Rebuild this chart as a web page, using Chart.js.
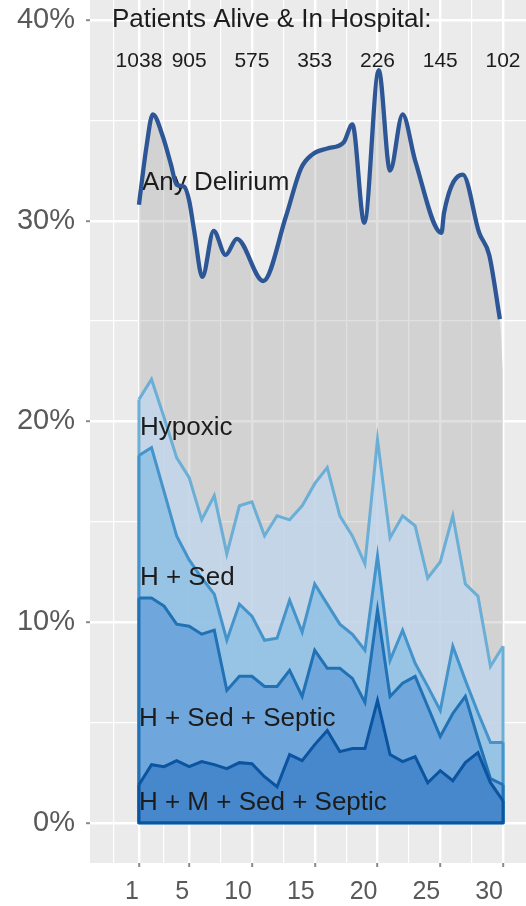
<!DOCTYPE html>
<html>
<head>
<meta charset="utf-8">
<script src="https://cdn.jsdelivr.net/npm/chart.js@4.4.1/dist/chart.umd.min.js"></script>
<style>
html,body{margin:0;padding:0;background:#ffffff;}
#wrap{width:526px;height:906px;position:relative;}
</style>
</head>
<body>
<div id="wrap"><canvas id="c" width="526" height="906"></canvas></div>
<script>
// ---------- data ----------
const days = [1,2,3,4,5,6,7,8,9,10,11,12,13,14,15,16,17,18,19,20,21,22,23,24,25,26,27,28,29,30];

const hypoxic = [21.1,22.1,20.2,18.2,17.2,15.1,16.3,13.4,15.8,16.0,14.3,15.3,15.1,15.8,16.9,17.7,15.3,14.3,12.9,19.1,14.2,15.3,14.8,12.2,13.0,15.3,11.9,11.3,7.8,8.8];
const hSed = [18.3,18.7,16.5,14.3,13.1,12.2,11.4,9.1,10.9,10.3,9.1,9.2,11.1,9.5,11.9,10.9,9.9,9.4,8.6,13.3,8.1,9.6,7.95,6.8,5.6,8.8,7.1,5.5,4.0,4.0];
const hSedSeptic = [11.2,11.2,10.8,9.9,9.8,9.4,9.6,6.6,7.3,7.3,6.8,6.8,7.6,6.3,8.6,7.7,7.7,7.2,6.0,10.6,6.3,6.96,7.3,5.8,4.3,5.45,6.3,4.2,2.2,1.9];
const hmSedSeptic = [1.9,2.9,2.8,3.1,2.8,3.05,2.9,2.7,3.0,2.95,2.3,1.8,3.4,3.1,3.9,4.6,3.55,3.7,3.7,6.1,3.4,3.05,3.3,2.0,2.6,2.1,3.0,3.5,2.0,1.1];

// smoothed "Any Delirium" curve
const delirDays   = [1,1.6,2.1,2.9,3.55,4.0,4.6,5.0,5.4,6.05,6.95,7.9,8.8,10.9,12.7,13.9,14.8,16.0,17.3,18.0,18.95,20.1,21.0,22.0,23.0,25.1,25.3,26.8,28.1,28.9,29.75];
const delirValues = [30.8,33.7,35.3,34.2,32.8,31.8,31.7,31.0,29.5,27.2,29.5,28.3,29.1,27.0,30.2,32.6,33.3,33.6,33.9,34.8,29.9,37.5,32.5,35.3,33.0,29.4,30.4,32.3,29.4,28.3,25.1];
const delirAreaEndDay = 30;
const delirAreaEndValue = 22.5;

// patients alive & in hospital
const countDays = [1,5,10,15,20,25,30];
const countValues = [1038,905,575,353,226,145,102];

// axis ticks
const xGridTicks = [-1,1,3,5,7.5,10,12.5,15,17.5,20,22.5,25,27.5,30];
const xLabelTicks = [1,5,10,15,20,25,30];
const yGridTicks = [0,5,10,15,20,25,30,35,40];
const yLabelTicks = [0,10,20,30,40];

const seriesNames = ['Any Delirium','Hypoxic','H + Sed','H + Sed + Septic','H + M + Sed + Septic'];

// ---------- chart ----------
const FONT = '"Liberation Sans", Arial, Helvetica, sans-serif';
const pts = (xs, ys) => xs.map((x, i) => ({x: x, y: ys[i]}));

const panelBg = {
  id: 'panelBg',
  beforeDraw(chart) {
    const {ctx, chartArea: a} = chart;
    ctx.save();
    ctx.fillStyle = '#EBEBEB';
    ctx.fillRect(a.left, a.top, a.right - a.left, a.bottom - a.top);
    ctx.restore();
  }
};

function drawSeriesLabels(chart) {
  const {ctx} = chart;
  const xs = chart.scales.x, ys = chart.scales.y;
  const spots = chart.options.plugins.seriesText.spots;
  ctx.save();
  ctx.font = '26px ' + FONT;
  ctx.fillStyle = '#1c1c1c';
  ctx.textAlign = 'left';
  ctx.textBaseline = 'middle';
  seriesNames.forEach((t, i) => {
    const s = spots[i];
    ctx.fillText(t, xs.getPixelForValue(s.day) + s.dx, ys.getPixelForValue(s.level));
  });
  ctx.restore();
}

const areaEdges = {
  id: 'areaEdges',
  afterDatasetDraw(chart, args) {
    const ds = chart.data.datasets[args.index];
    if (ds.edge) {
      const xs = chart.scales.x, ys = chart.scales.y, ctx = chart.ctx;
      const d = ds.data, f = d[0], l = d[d.length - 1];
      ctx.save();
      ctx.strokeStyle = ds.borderColor;
      ctx.lineWidth = ds.borderWidth;
      ctx.lineJoin = 'round';
      ctx.beginPath();
      ctx.moveTo(xs.getPixelForValue(f.x), ys.getPixelForValue(f.y));
      ctx.lineTo(xs.getPixelForValue(f.x), ys.getPixelForValue(0));
      ctx.lineTo(xs.getPixelForValue(l.x), ys.getPixelForValue(0));
      ctx.lineTo(xs.getPixelForValue(l.x), ys.getPixelForValue(l.y));
      ctx.stroke();
      ctx.restore();
    }
    if (ds.labelsAfter) drawSeriesLabels(chart);
  }
};

const seriesText = { id: 'seriesText' };

const topText = {
  id: 'topText',
  afterDatasetsDraw(chart) {
    const {ctx, chartArea: a} = chart;
    const xs = chart.scales.x;
    ctx.save();
    ctx.fillStyle = '#1c1c1c';
    ctx.textBaseline = 'middle';
    ctx.textAlign = 'left';
    ctx.font = '26px ' + FONT;
    ctx.fillText('Patients Alive & In Hospital:', a.left + 22, 20);
    ctx.font = '21px ' + FONT;
    ctx.textAlign = 'center';
    countDays.forEach((d, i) => ctx.fillText(String(countValues[i]), xs.getPixelForValue(d), 61));
    ctx.restore();
  }
};

const isIn = (arr, v) => arr.some(t => Math.abs(t - v) < 1e-6);

new Chart(document.getElementById('c'), {
  type: 'line',
  data: {
    datasets: [
      { label: 'Any Delirium (line)', data: pts(delirDays, delirValues), borderColor: '#2D5696', borderWidth: 4.3,
        fill: false, pointRadius: 0, cubicInterpolationMode: 'monotone', order: 0 },
      { label: seriesNames[0], data: pts(delirDays.concat([delirAreaEndDay]), delirValues.concat([delirAreaEndValue])),
        borderWidth: 0, borderColor: 'rgba(0,0,0,0)', backgroundColor: 'rgba(160,160,160,0.33)',
        fill: 'origin', pointRadius: 0, cubicInterpolationMode: 'monotone', order: 5 },
      { label: seriesNames[1], data: pts(days, hypoxic), borderColor: '#6BAED6', borderWidth: 3,
        backgroundColor: 'rgba(191,214,234,0.82)', fill: 'origin', pointRadius: 0, tension: 0, order: 4, edge: true },
      { label: seriesNames[2], data: pts(days, hSed), borderColor: '#4494CB', borderWidth: 3,
        backgroundColor: 'rgba(141,191,228,0.82)', fill: 'origin', pointRadius: 0, tension: 0, order: 3, edge: true },
      { label: seriesNames[3], data: pts(days, hSedSeptic), borderColor: '#2171B5', borderWidth: 3,
        backgroundColor: 'rgba(102,161,218,0.82)', fill: 'origin', pointRadius: 0, tension: 0, order: 2, edge: true },
      { label: seriesNames[4], data: pts(days, hmSedSeptic), borderColor: '#0B54A0', borderWidth: 3,
        backgroundColor: 'rgba(64,130,200,0.85)', fill: 'origin', pointRadius: 0, tension: 0, order: 1, edge: true, labelsAfter: true }
    ]
  },
  options: {
    responsive: false,
    devicePixelRatio: 1,
    animation: false,
    layout: { padding: 0 },
    plugins: {
      legend: { display: false },
      tooltip: { enabled: false },
      seriesText: {
        spots: [
          { day: 1, dx: 3, level: 31.9 },
          { day: 1, dx: 1, level: 19.7 },
          { day: 1, dx: 1, level: 12.2 },
          { day: 1, dx: 0, level: 5.2 },
          { day: 1, dx: 0, level: 1.0 }
        ]
      }
    },
    scales: {
      x: {
        type: 'linear',
        min: -2.9,
        max: 31.83,
        afterBuildTicks: s => { s.ticks = xGridTicks.map(v => ({value: v})); },
        afterFit: s => { s.height = 43; s.paddingLeft = 0; s.paddingRight = 0; },
        border: { display: false },
        grid: {
          color: '#FFFFFF',
          lineWidth: c => (c.tick && isIn(xLabelTicks, c.tick.value)) ? 2.4 : 1.2,
          drawTicks: true,
          tickLength: 4,
          tickWidth: 2,
          tickColor: c => (c.tick && isIn(xLabelTicks, c.tick.value)) ? '#8a8a8a' : 'rgba(0,0,0,0)'
        },
        ticks: {
          autoSkip: false,
          maxRotation: 0,
          align: 'end',
          padding: 10,
          color: '#595959',
          font: { size: 25, family: FONT },
          callback: v => isIn(xLabelTicks, v) ? String(v) : ''
        }
      },
      y: {
        type: 'linear',
        min: -2,
        max: 41,
        afterBuildTicks: s => { s.ticks = yGridTicks.map(v => ({value: v})); },
        afterFit: s => { s.width = 90; s.paddingTop = 0; s.paddingBottom = 0; },
        border: { display: false },
        grid: {
          color: '#FFFFFF',
          lineWidth: c => (c.tick && isIn(yLabelTicks, c.tick.value)) ? 2.4 : 1.3,
          drawTicks: true,
          tickLength: 4,
          tickWidth: 2,
          tickColor: c => (c.tick && isIn(yLabelTicks, c.tick.value)) ? '#8a8a8a' : 'rgba(0,0,0,0)'
        },
        ticks: {
          autoSkip: false,
          padding: 11,
          color: '#595959',
          font: { size: 29, family: FONT },
          callback: v => isIn(yLabelTicks, v) ? v + '%' : ''
        }
      }
    }
  },
  plugins: [panelBg, areaEdges, seriesText, topText]
});
</script>
</body>
</html>
